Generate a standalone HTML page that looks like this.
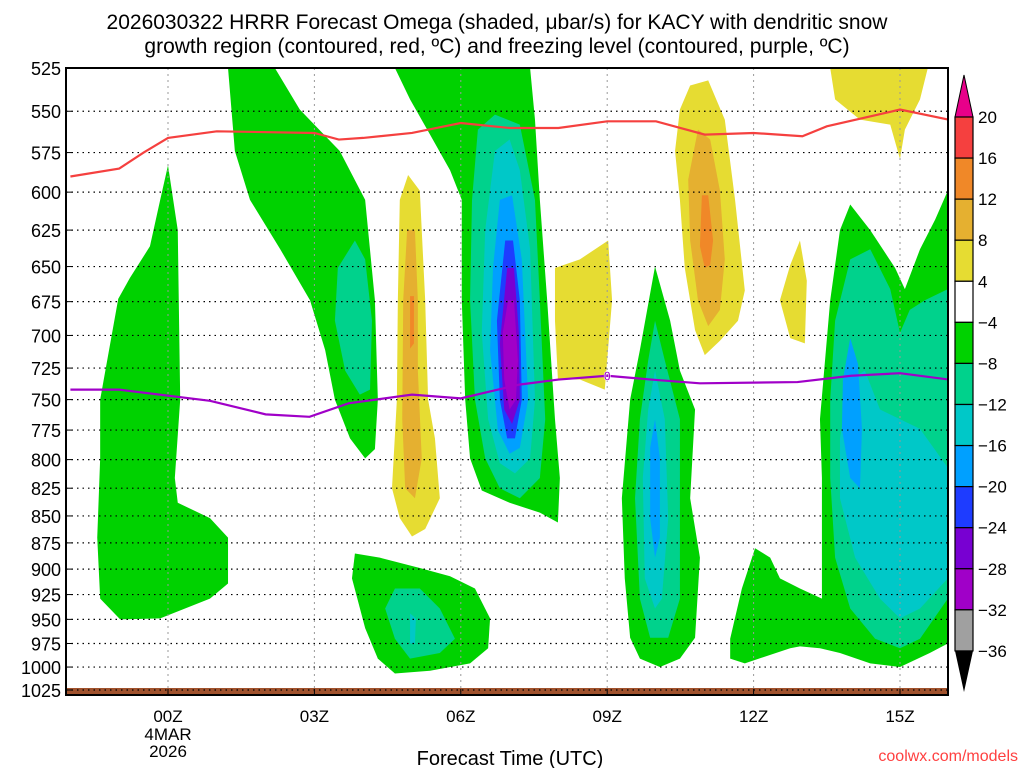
<!DOCTYPE html>
<html><head><meta charset="utf-8"><style>
body{margin:0;background:#fff;width:1024px;height:768px;overflow:hidden}
svg text{font-family:"Liberation Sans",sans-serif}
</style></head><body>
<svg id="chart" width="1024" height="768" xmlns="http://www.w3.org/2000/svg">
<text x="497" y="29" text-anchor="middle" font-size="21">2026030322 HRRR Forecast Omega (shaded, μbar/s) for KACY with dendritic snow</text>
<text x="497" y="53" text-anchor="middle" font-size="21">growth region (contoured, red, ºC) and freezing level (contoured, purple, ºC)</text>
<g id="fills"></g><g id="grid"></g><g id="lines"></g><g id="axes"></g><g id="cbar"></g>
<text x="510" y="765" text-anchor="middle" font-size="20">Forecast Time (UTC)</text>
<text x="1018" y="761" text-anchor="end" font-size="16" fill="#ff4040">coolwx.com/models</text>
</svg>
<script>
const NS="http://www.w3.org/2000/svg";
const pressureTicks=[525,550,575,600,625,650,675,700,725,750,775,800,825,850,875,900,925,950,975,1000,1025];
const hourTicks=[0,3,6,9,12,15];
const hourLabels=["00Z","03Z","06Z","09Z","12Z","15Z"];
const levelColors={g:"#00d200",t:"#00d28c",c:"#00c8c8",b:"#00a0ff",d:"#1e3cff",p:"#7800d2",m:"#a000c8",y:"#e6dc32",o:"#e5b030",r:"#f08828"};
const cbLevels=["20","16","12","8","4","−4","−8","−12","−16","−20","−24","−28","−32","−36"];
const cbColors=["#f5403f","#f08828","#e5b030","#e6dc32","#ffffff","#00d200","#00d28c","#00c8c8","#00a0ff","#1e3cff","#7800d2","#a000c8","#a0a0a0"];
const dgzHours=[-2,-1,-0.5,0,1,3,3.5,4,5,6,7,8,9,10,11,12,13,13.5,15,16];
const dgzPres=[590,585,575,566,562,563,567,566,563,557,560,560,556,556,564,563,565,559,549,555];
const frzHours=[-2,-1,0.86,2,2.9,3.7,5,6,7.2,8,9,9.9,10.9,12.9,14,15,16];
const frzPres=[742,742,751,762,764,753,746,749,738,734,731,734,737,736,731,729,734];
const shapes=[
["g",[[0,583],[0.2,625],[0.25,750],[0.14,816],[0.2,838],[0.86,852],[1.23,870],[1.23,914],[0.86,929],[-0.16,949],[-0.98,950],[-1.39,929],[-1.45,870],[-1.39,799],[-1.39,750],[-1.02,673],[-0.78,658],[-0.37,636],[-0.16,605]]],
["g",[[1.23,525],[1.37,574],[1.68,605],[2.3,638],[2.91,674],[3.22,711],[3.42,750],[3.73,782],[4.04,799],[4.24,791],[4.3,750],[4.24,674],[4.04,605],[3.52,574],[2.7,549],[2.19,525]]],
["g",[[4.65,525],[4.96,543],[5.37,564],[5.78,586],[6.02,605],[6.02,674],[6.09,750],[6.19,799],[6.43,827],[7.0,838],[7.62,847],[7.99,856],[8.03,816],[7.93,766],[7.77,674],[7.62,605],[7.52,555],[7.42,525]]],
["g",[[9.98,650],[10.29,689],[10.49,727],[10.8,758],[10.7,834],[10.9,889],[10.8,969],[10.49,991],[10.08,1000],[9.67,991],[9.47,969],[9.36,909],[9.3,834],[9.47,750],[9.67,711]]],
["g",[[15.98,599],[15.98,975],[15.61,985],[15.0,1000],[14.39,996],[13.77,985],[13.36,980],[12.95,978],[12.75,980],[11.82,996],[11.52,991],[11.52,970],[11.76,919],[12.03,880],[12.34,889],[12.54,909],[12.95,919],[13.4,929],[13.4,816],[13.36,766],[13.57,674],[13.77,625],[13.98,608],[14.39,625],[14.9,651],[15.1,666],[15.41,638],[15.72,618]]],
["g",[[3.83,885],[4.34,889],[5.16,899],[5.78,907],[6.29,919],[6.6,949],[6.56,980],[6.19,996],[5.37,1004],[4.65,1007],[4.3,991],[4.04,959],[3.77,909]]],
["t",[[3.83,632],[4.04,645],[4.18,689],[4.14,742],[3.93,746],[3.63,727],[3.42,689],[3.48,651]]],
["t",[[6.35,561],[6.7,552],[7.21,558],[7.52,605],[7.62,674],[7.73,766],[7.62,816],[7.21,834],[6.8,825],[6.5,799],[6.29,750],[6.19,674],[6.23,605]]],
["c",[[6.7,574],[7.0,567],[7.21,586],[7.42,638],[7.52,750],[7.42,799],[7.11,812],[6.8,803],[6.56,766],[6.43,698],[6.5,625]]],
["b",[[6.8,605],[7.05,602],[7.25,645],[7.38,750],[7.21,790],[7.0,795],[6.76,775],[6.6,711],[6.66,651]]],
["d",[[6.91,632],[7.07,632],[7.21,674],[7.25,750],[7.11,782],[6.95,782],[6.8,750],[6.74,689]]],
["p",[[6.95,651],[7.09,651],[7.19,698],[7.21,750],[7.05,770],[6.89,758],[6.8,706]]],
["m",[[6.97,674],[7.09,674],[7.17,719],[7.13,750],[7.0,758],[6.89,734],[6.86,698]]],
["y",[[4.92,589],[5.16,599],[5.27,674],[5.33,750],[5.47,782],[5.57,834],[5.27,862],[5.0,869],[4.75,852],[4.59,825],[4.69,750],[4.71,674],[4.75,605]]],
["o",[[4.9,625],[5.06,625],[5.12,674],[5.12,727],[5.2,799],[5.06,834],[4.86,825],[4.8,766],[4.82,674]]],
["r",[[4.96,671],[5.04,671],[5.04,706],[4.96,710]]],
["y",[[7.93,651],[8.44,645],[9.02,632],[9.1,674],[8.95,742],[8.44,734],[7.99,734],[7.93,689]]],
["y",[[10.7,535],[11.07,532],[11.41,555],[11.62,605],[11.82,667],[11.68,689],[11.31,704],[11.0,715],[10.8,696],[10.59,651],[10.49,605],[10.39,574],[10.49,549]]],
["o",[[10.86,561],[11.11,567],[11.31,599],[11.41,645],[11.31,681],[11.07,693],[10.86,674],[10.7,632],[10.66,592]]],
["r",[[10.94,602],[11.07,602],[11.17,632],[11.11,649],[11.0,651],[10.9,636]]],
["y",[[12.95,632],[13.09,660],[13.05,706],[12.75,702],[12.54,674],[12.75,649]]],
["y",[[13.57,525],[15.57,525],[15.41,543],[15.1,561],[15.0,579],[14.8,558],[14.18,555],[13.67,543]]],
["t",[[9.98,689],[10.18,719],[10.49,766],[10.49,834],[10.49,929],[10.25,969],[9.88,969],[9.67,929],[9.57,834],[9.67,766],[9.84,719]]],
["c",[[9.98,727],[10.18,766],[10.25,852],[10.12,929],[9.98,939],[9.77,909],[9.73,816],[9.84,758]]],
["b",[[9.98,766],[10.08,799],[10.08,870],[9.98,889],[9.88,852],[9.88,790]]],
["t",[[15.98,666],[15.98,929],[15.41,970],[15.0,980],[14.49,970],[13.98,939],[13.67,889],[13.57,816],[13.57,750],[13.67,689],[13.98,645],[14.39,638],[14.8,666],[15.0,698],[15.2,681],[15.51,674]]],
["c",[[14.28,727],[14.59,758],[15.41,774],[15.98,807],[15.98,909],[15.41,939],[15.0,949],[14.59,929],[14.08,889],[13.77,834],[13.77,782],[13.98,734]]],
["b",[[13.98,702],[14.14,722],[14.22,774],[14.18,825],[13.98,816],[13.81,774],[13.83,734]]],
["t",[[4.65,919],[5.16,919],[5.57,939],[5.88,970],[5.57,985],[4.96,991],[4.65,970],[4.45,939]]],
["c",[[4.96,944],[5.08,949],[5.06,975],[4.96,975]]]
];
const X0=66,X1=948,Y0=68,Y1=695;
const xS=h=>168+(h)*48.8;
const yS=p=>68+(Math.log(p)-Math.log(525))/(Math.log(1025)-Math.log(525))*622;
function mk(tag,attrs,parent){const e=document.createElementNS(NS,tag);for(const k in attrs)e.setAttribute(k,attrs[k]);parent.appendChild(e);return e;}
const fills=document.getElementById('fills');
const clip=mk('clipPath',{id:'pc'},document.getElementById('chart'));
mk('rect',{x:X0,y:Y0,width:X1-X0,height:Y1-Y0},clip);
fills.setAttribute('clip-path','url(#pc)');
shapes.forEach((s,i)=>{
 const el=mk('polygon',{points:s[1].map(q=>xS(q[0])+','+yS(q[1])).join(' '),fill:levelColors[s[0]]},fills);
 
 
});
const ground=mk('rect',{x:X0,y:688,width:X1-X0,height:7,fill:"#a0522d"},fills);


const grid=document.getElementById('grid'),axes=document.getElementById('axes');
pressureTicks.forEach(p=>{
 const y=yS(p);
 const l=mk('line',{x1:X0,x2:X1,y1:y,y2:y,stroke:"#000","stroke-width":1.2,"stroke-dasharray":"1.5 4"},grid);
 
 
 mk('line',{x1:X0,x2:X0+6,y1:y,y2:y,stroke:"#000"},axes);
 const t=mk('text',{x:61,y:y+7,"text-anchor":"end","font-size":18},axes);t.textContent=p;
 
 
});
hourTicks.forEach((h,i)=>{
 const x=xS(h);
 const l=mk('line',{x1:x,x2:x,y1:Y0,y2:Y1,stroke:"#999","stroke-width":1,"stroke-dasharray":"2 4"},grid);
 
 
 mk('line',{x1:x,x2:x,y1:Y1,y2:Y1-6,stroke:"#000"},axes);
 const t=mk('text',{x:x,y:722,"text-anchor":"middle","font-size":17},axes);t.textContent=hourLabels[i];
 
 
});
[["4MAR",740],["2026",757]].forEach(a=>{const t=mk('text',{x:xS(0),y:a[1],"text-anchor":"middle","font-size":17},axes);t.textContent=a[0];
 
 });
const frame=mk('rect',{x:X0,y:Y0,width:X1-X0,height:Y1-Y0,fill:"none",stroke:"#000","stroke-width":2},axes);


const lines=document.getElementById('lines');lines.setAttribute('clip-path','url(#pc)');
const dl=mk('polyline',{points:dgzHours.map((h,i)=>xS(h)+','+yS(dgzPres[i])).join(' '),fill:"none",stroke:"#f5403f","stroke-width":2.2},lines);


const fl=mk('polyline',{points:frzHours.map((h,i)=>xS(h)+','+yS(frzPres[i])).join(' '),fill:"none",stroke:"#a000c8","stroke-width":2.2},lines);


const fz=mk('text',{x:xS(9),y:yS(731)+5,"text-anchor":"middle","font-size":13,fill:"#a000c8","font-weight":"bold",stroke:"#fff","stroke-width":0.5},lines);fz.textContent="0";


const cb=document.getElementById('cbar');
const cx=955,cw=18,ctop=117,step=41.07;
const up=mk('polygon',{points:`${cx},${ctop} ${cx+cw},${ctop} ${cx+cw/2},75`,fill:"#e8008a",stroke:"#000"},cb);


cbColors.forEach((c,i)=>{const r=mk('rect',{x:cx,y:ctop+i*step,width:cw,height:step,fill:c,stroke:"#000","stroke-width":1.2},cb);
 
 });
const dn=mk('polygon',{points:`${cx},${ctop+13*step} ${cx+cw},${ctop+13*step} ${cx+cw/2},692`,fill:"#000"},cb);


cbLevels.forEach((l,i)=>{const t=mk('text',{x:978,y:ctop+i*step+6,"font-size":17},cb);t.textContent=l;
 
 });
</script>
</body></html>
